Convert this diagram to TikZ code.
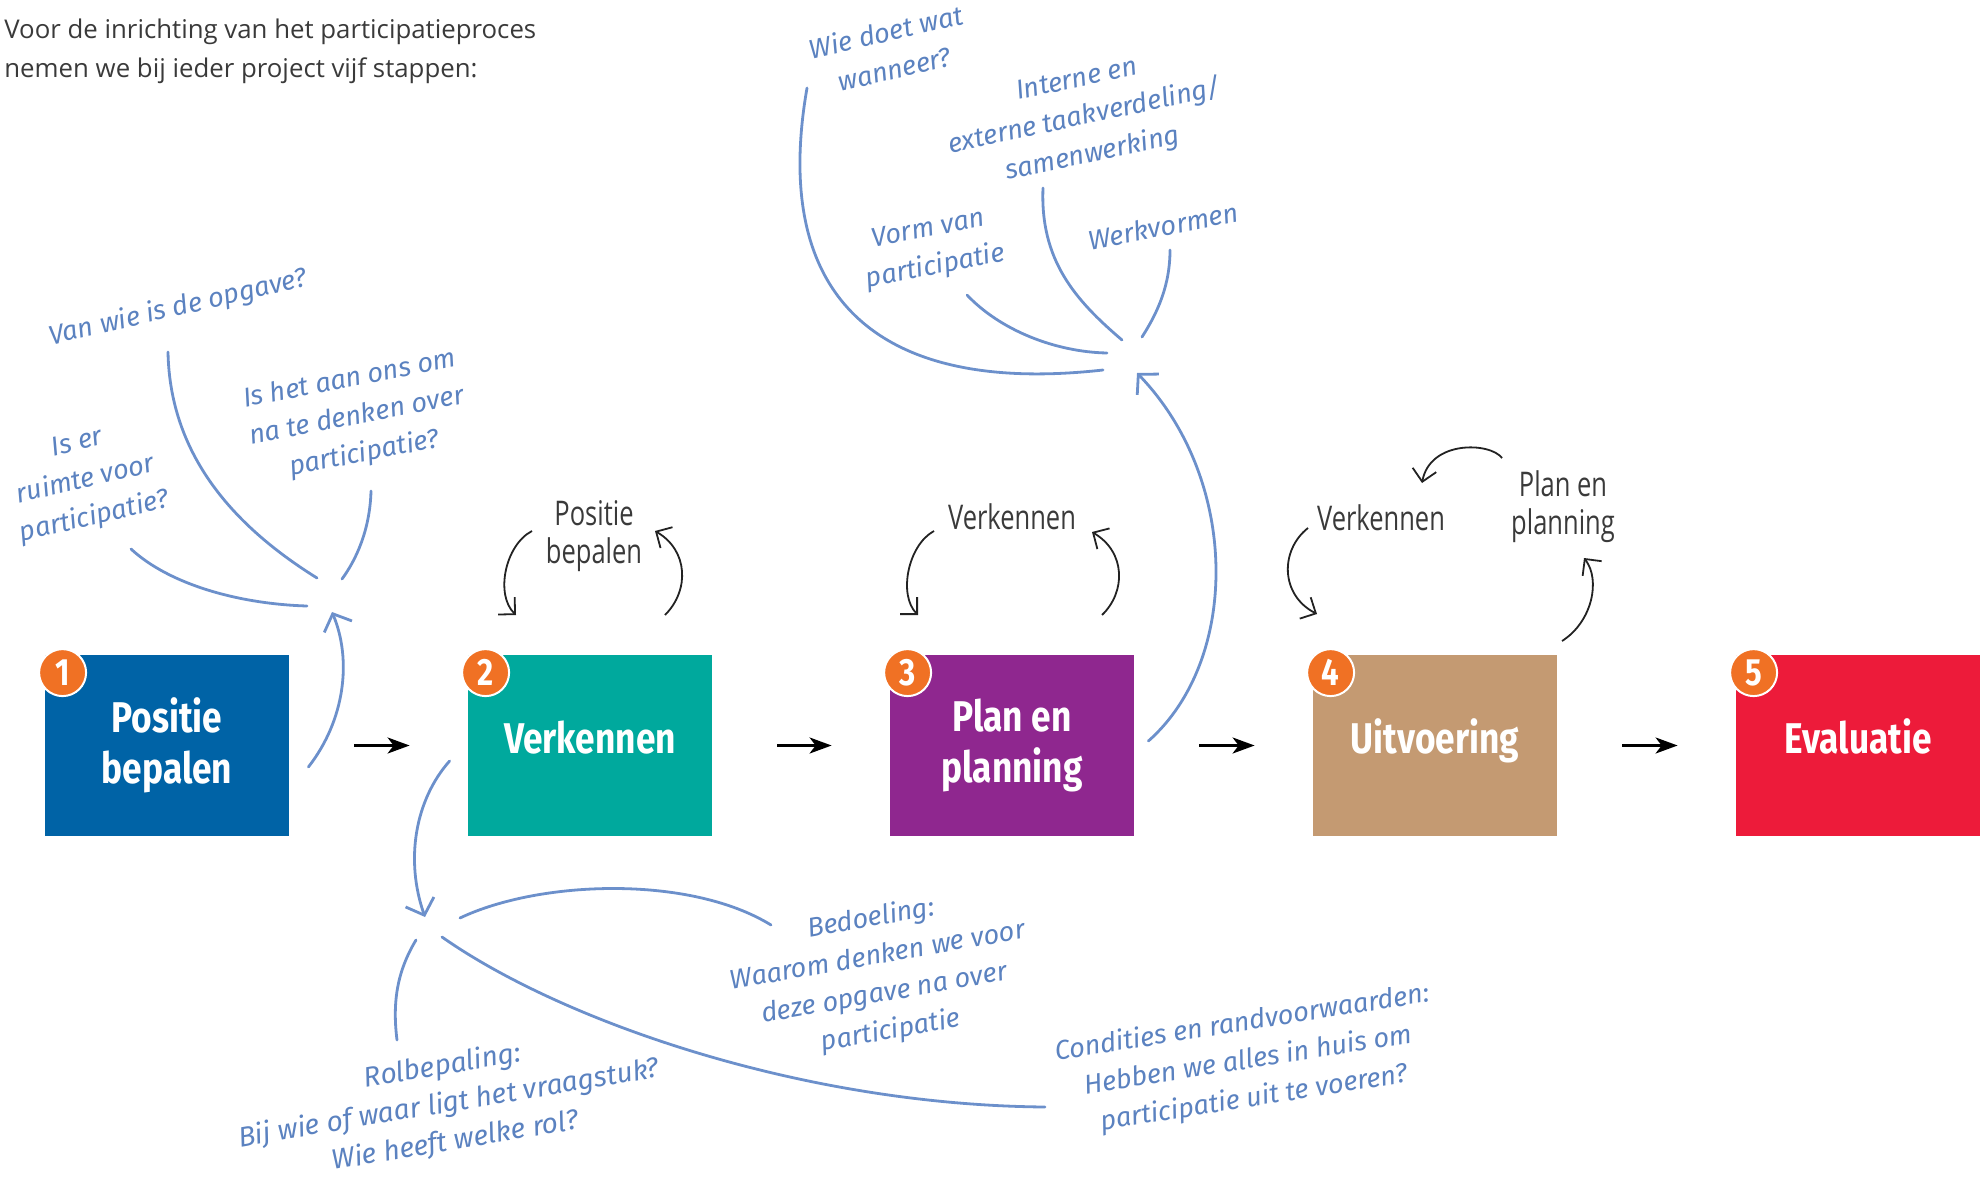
\documentclass[tikz,border=0pt]{standalone}
\usepackage{fontspec}
\usepackage{tikz}
\usetikzlibrary{arrows.meta}
\setmainfont{Open Sans}
\newfontfamily\boxfont[FakeStretch=0.82]{Fira Sans}
\newfontfamily\labelfont[FakeStretch=0.75]{Open Sans}
\newfontfamily\handfont{Fira Sans}
\definecolor{posblue}{HTML}{0063A6}
\definecolor{verkteal}{HTML}{00A99D}
\definecolor{planpurple}{HTML}{8F278F}
\definecolor{uitvtan}{HTML}{C49A72}
\definecolor{evalred}{HTML}{ED1B3A}
\definecolor{badgeorange}{HTML}{F07124}
\definecolor{notetext}{HTML}{5B82C0}
\definecolor{lineblue}{HTML}{6C90CB}
\definecolor{textgrey}{HTML}{3A3A3A}
\definecolor{arrowgrey}{HTML}{222222}

\begin{document}
\begin{tikzpicture}[x=0.5pt,y=-0.5pt,
  stepbox/.style={minimum width=122pt,minimum height=90.5pt,text=white,align=center,
    font=\boxfont\bfseries\fontsize{21.5}{25.5}\selectfont},
  oneline/.style={text height=15pt,text depth=6.7pt},
  badge/.style={circle,fill=badgeorange,draw=white,line width=1pt,minimum size=23.5pt,
    text=white,font=\boxfont\bfseries\fontsize{19}{19}\selectfont},
  flow/.style={line width=1.3pt,-{Stealth[length=11pt,width=8pt,inset=3pt]}},
  steplabel/.style={text=textgrey,align=center,font=\labelfont\fontsize{17}{19}\selectfont},
  roundarrow/.style={line width=0.9pt,draw=arrowgrey,-{Straight Barb[length=6pt,width=12pt]}},
  note/.style={text=notetext,align=center,font=\handfont\itshape\fontsize{13.5}{19}\selectfont},
  hand/.style={line width=1.4pt,draw=lineblue,line cap=round},
  handarrow/.style={hand,-{Straight Barb[length=7pt,width=15pt]}}]
\tikzstyle{every node}+=[inner sep=0pt]
\useasboundingbox (0,0) rectangle (1980,1177);

\node[anchor=west,align=left,text=textgrey,font=\fontsize{12.9}{19.5}\selectfont] (intro) at (4,51)
  {Voor de inrichting van het participatieproces\\nemen we bij ieder project vijf stappen:};

\node[stepbox,fill=posblue] (pos) at (167,745.5) {Positie\\bepalen};
\node[stepbox,oneline,fill=verkteal] (verk) at (590,745.5) {Verkennen};
\node[stepbox,fill=planpurple] (plan) at (1012,745.5) {Plan en\\planning};
\node[stepbox,oneline,fill=uitvtan] (uitv) at (1435,745.5) {Uitvoering};
\node[stepbox,oneline,fill=evalred] (eval) at (1858,745.5) {Evaluatie};

\node[badge] (n1) at ([shift={(18,18)}]pos.north west) {1};
\node[badge] (n2) at ([shift={(18,18)}]verk.north west) {2};
\node[badge] (n3) at ([shift={(18,18)}]plan.north west) {3};
\node[badge] (n4) at ([shift={(18,18)}]uitv.north west) {4};
\node[badge] (n5) at ([shift={(18,18)}]eval.north west) {5};

\draw[flow] ([xshift=32.5pt]pos.east) -- ([xshift=-29pt]verk.west);
\draw[flow] ([xshift=32.5pt]verk.east) -- ([xshift=-29pt]plan.west);
\draw[flow] ([xshift=32.5pt]plan.east) -- ([xshift=-29pt]uitv.west);
\draw[flow] ([xshift=32.5pt]uitv.east) -- ([xshift=-29pt]eval.west);

\node[steplabel] (l2) at (594,536) {Positie\\bepalen};
\node[steplabel] (l3) at (1012,517) {Verkennen};
\node[steplabel] (l4a) at (1381,518) {Verkennen};
\node[steplabel] (l4b) at (1563,507) {Plan en\\planning};

\draw[roundarrow] ([shift={(-62,-5)}]l2.center) .. controls (505,545) and (495,595) .. (516,615);
\draw[roundarrow] (665,615) .. controls (690,590) and (688,550) .. ([shift={(61,-5)}]l2.center);
\draw[roundarrow] ([shift={(-78,14)}]l3.center) .. controls (908,545) and (898,595) .. (918,615);
\draw[roundarrow] (1102,615) .. controls (1126,592) and (1126,552) .. ([shift={(80,15)}]l3.center);
\draw[roundarrow] ([shift={(-73,10)}]l4a.center) .. controls (1280,550) and (1280,595) .. (1317,614);
\draw[roundarrow] (1562,641) .. controls (1592,622) and (1601,580) .. ([shift={(21,51)}]l4b.center);
\draw[roundarrow] ([shift={(-61,-49)}]l4b.center) .. controls (1490,442) and (1430,440) .. ([shift={(41,-35)}]l4a.center);

\coordinate (hubA) at (330,600);
\coordinate (hubB) at (1130,362);
\coordinate (hubC) at (432,928);

\node[note,rotate=13] (vanwie) at (178,308) {Van wie is de opgave?};
\node[note,rotate=13] (ruimte) at (86,481) {Is er\\ruimte voor\\participatie?};
\node[note,rotate=11] (aanons) at (357,417) {Is het aan ons om\\na te denken over\\participatie?};
\node[note,rotate=13] (wiedoet) at (890,50) {Wie doet wat\\wanneer?};
\node[note,rotate=12] (interne) at (1085,118) {Interne en\\externe taakverdeling/\\samenwerking};
\node[note,rotate=11] (vorm) at (932,249) {Vorm van\\participatie};
\node[note,rotate=11] (werkv) at (1163,226) {Werkvormen};
\node[note,rotate=10] (bedoeling) at (881,975) {Bedoeling:\\Waarom denken we voor\\deze opgave na over\\participatie};
\node[note,rotate=9.5,font=\handfont\itshape\fontsize{14}{19}\selectfont] (rol) at (449,1104) {Rolbepaling:\\Bij wie of waar ligt het vraagstuk?\\Wie heeft welke rol?};
\node[note,rotate=9] (condities) at (1248,1061) {Condities en randvoorwaarden:\\Hebben we alles in huis om\\participatie uit te voeren?};

\draw[hand] ([shift={(-10,44)}]vanwie.center) .. controls (170,460) and (240,530) .. ([shift={(-13,-22)}]hubA);
\draw[hand] ([shift={(45,68)}]ruimte.center) .. controls (170,585) and (240,604) .. ([shift={(-23,6)}]hubA);
\draw[hand] ([shift={(14,74)}]aanons.center) .. controls (370,530) and (356,560) .. ([shift={(12,-21)}]hubA);
\draw[handarrow] ([shift={(19,21.5)}]pos.east) .. controls (345,720) and (352,660) .. ([shift={(2,12)}]hubA);

\draw[hand] ([shift={(-83,38)}]wiedoet.center) .. controls (770,300) and (880,395) .. ([shift={(-27,8)}]hubB);
\draw[hand] ([shift={(-42,70)}]interne.center) .. controls (1040,260) and (1075,300) .. ([shift={(-8,-22)}]hubB);
\draw[hand] ([shift={(35,46)}]vorm.center) .. controls (1000,330) and (1055,352) .. ([shift={(-23,-9)}]hubB);
\draw[hand] ([shift={(7,24)}]werkv.center) .. controls (1170,285) and (1158,312) .. ([shift={(12,-25)}]hubB);
\draw[handarrow] ([shift={(14,-4.5)}]plan.east) .. controls (1240,660) and (1240,480) .. ([shift={(7,11)}]hubB);

\draw[handarrow] ([shift={(-18,15.5)}]verk.west) .. controls (415,800) and (405,860) .. ([shift={(-7,-11)}]hubC);
\draw[hand] ([shift={(28,-10)}]hubC) .. controls (540,880) and (690,875) .. ([shift={(-110,-50)}]bedoeling.center);
\draw[hand] ([shift={(-16,12)}]hubC) .. controls (398,970) and (392,1000) .. ([shift={(-52,-64)}]rol.center);
\draw[hand] ([shift={(10,9)}]hubC) .. controls (560,1020) and (800,1105) .. ([shift={(-203,46)}]condities.center);
\end{tikzpicture}
\end{document}
